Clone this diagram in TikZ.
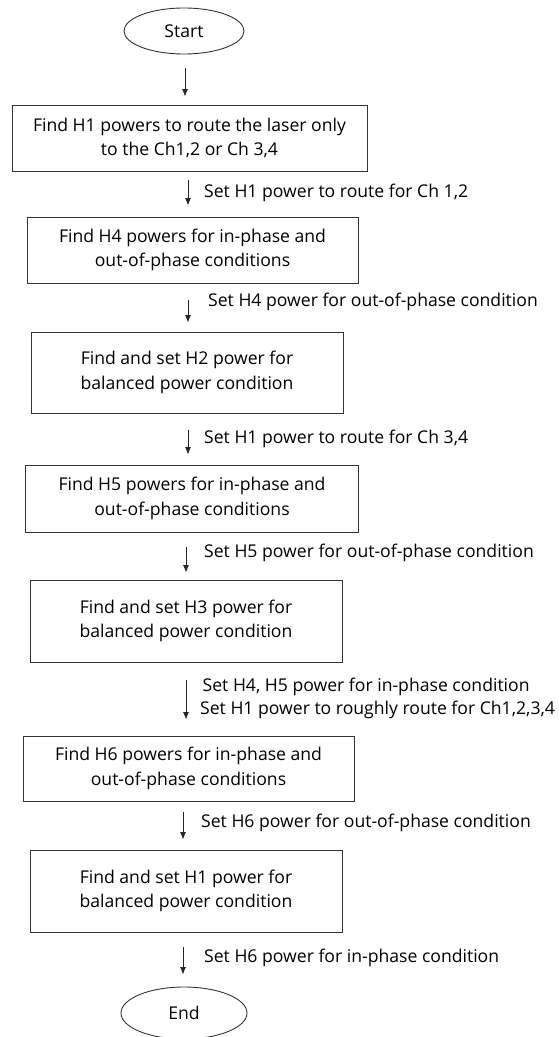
\documentclass[tikz,border=0pt]{standalone}
\usepackage{fontspec}
\setmainfont{Open Sans}
\usetikzlibrary{arrows.meta,shapes.geometric}
\begin{document}
\begin{tikzpicture}[x=1bp,y=-1bp,
  every node/.style={font=\fontsize{17.6bp}{24.5bp}\selectfont, inner sep=0pt, text=black},
  procbox/.style={draw=black!80, line width=0.9bp, align=center},
  term/.style={draw=black!80, ellipse, line width=0.9bp, minimum width=120bp, minimum height=46bp},
  arr/.style={draw=black!85, line width=0.9bp, -{Latex[length=7.5bp,width=6bp]}},
  lbl/.style={anchor=west}]
\useasboundingbox (0,0) rectangle (559,1037);
\node[term] (start) at (184,31) {Start};
\node[procbox, minimum width=355bp, minimum height=66bp] (b1) at (189.5,138) {Find H1 powers to route the laser only\\to the Ch1,2 or Ch 3,4};
\node[procbox, minimum width=331bp, minimum height=66bp] (b2) at (192.5,250) {Find H4 powers for in-phase and\\out-of-phase conditions};
\node[procbox, minimum width=312bp, minimum height=81bp] (b3) at (187,372.5) {Find and set H2 power for\\balanced power condition};
\node[procbox, minimum width=333bp, minimum height=67bp] (b4) at (192,498.5) {Find H5 powers for in-phase and\\out-of-phase conditions};
\node[procbox, minimum width=312bp, minimum height=82bp] (b5) at (186,621) {Find and set H3 power for\\balanced power condition};
\node[procbox, minimum width=331bp, minimum height=65bp] (b6) at (188.5,768.5) {Find H6 powers for in-phase and\\out-of-phase conditions};
\node[procbox, minimum width=312bp, minimum height=82bp] (b7) at (186,891) {Find and set H1 power for\\balanced power condition};
\node[term, minimum width=126bp, minimum height=52bp] (end) at (184,1013) {End};

\draw[arr] ([shift={(1,14)}]start.south) -- ([shift={(-4.5,-8)}]b1.north);
\draw[arr] ([shift={(-1.5,9)}]b1.south) -- ([shift={(-4.5,-11)}]b2.north);
\draw[arr] ([shift={(-4.5,17)}]b2.south) -- ([shift={(1,-9)}]b3.north);
\draw[arr] ([shift={(1,17)}]b3.south) -- ([shift={(-4,-10)}]b4.north);
\draw[arr] ([shift={(-6,15)}]b4.south) -- ([shift={(0,-7)}]b5.north);
\draw[arr] ([shift={(0,18)}]b5.south) -- ([shift={(-2.5,-16)}]b6.north);
\draw[arr] ([shift={(-5.5,11)}]b6.south) -- ([shift={(-3,-10)}]b7.north);
\draw[arr] ([shift={(-3,15)}]b7.south) -- ([shift={(-1,-12)}]end.north);

\node[lbl] (l1) at (204,193) {Set H1 power to route for Ch 1,2};
\node[lbl] (l2) at (208,302) {Set H4 power for out-of-phase condition};
\node[lbl] (l3) at (204,439) {Set H1 power to route for Ch 3,4};
\node[lbl] (l4) at (204,553) {Set H5 power for out-of-phase condition};
\node[lbl] (l5) at (202.5,687) {Set H4, H5 power for in-phase condition};
\node[lbl] (l6) at (200,710) {Set H1 power to roughly route for Ch1,2,3,4};
\node[lbl] (l7) at (201,823) {Set H6 power for out-of-phase condition};
\node[lbl] (l8) at (204,958) {Set H6 power for in-phase condition};
\end{tikzpicture}
\end{document}
